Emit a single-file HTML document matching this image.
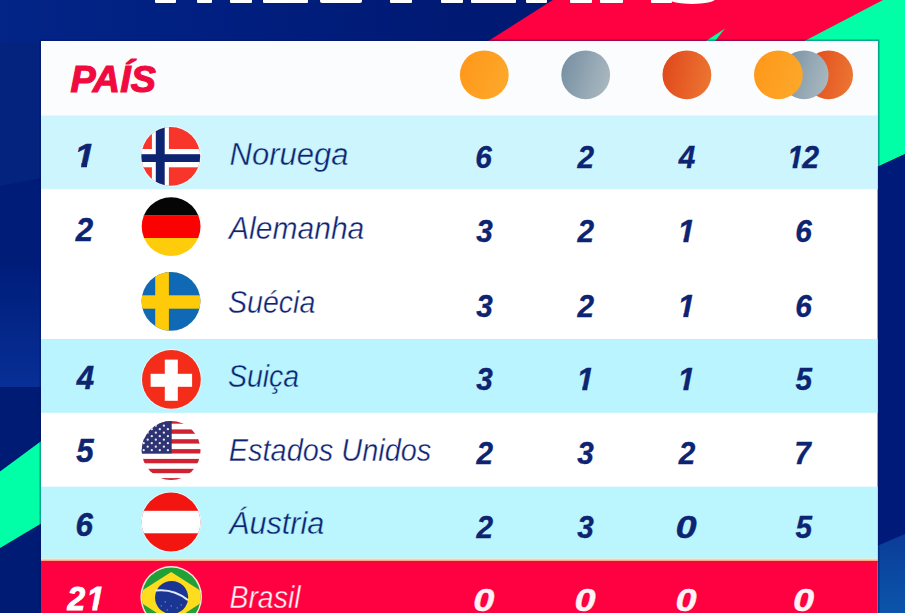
<!DOCTYPE html>
<html lang="pt">
<head>
<meta charset="utf-8">
<title>Quadro de Medalhas</title>
<style>
  html, body { margin: 0; padding: 0; }
  body { width: 905px; height: 613px; overflow: hidden; background: #001f80; position: relative;
         font-family: "Liberation Sans", sans-serif; }
  #bg { position: absolute; left: 0; top: 0; width: 905px; height: 613px; display: block; }
  text { font-family: "Liberation Sans", sans-serif; font-style: italic; fill: #0d2473; }
  .nm { font-weight: normal; }
  .nb { font-weight: bold; stroke: #0d2473; stroke-width: 0.35px; }
  .nb.w { stroke: #fff3f6; }
  .rk { font-weight: bold; stroke: #0d2473; stroke-width: 0.5px; }
  .w { fill: #fff3f6; }
  .w2 { fill: #ffffff; stroke: #ffffff; stroke-width: 0.9px; }
  .pais { font-weight: bold; fill: #f00a3f; stroke: #f00a3f; stroke-width: 1.2px; }
</style>
</head>
<body>
<svg id="bg" width="905" height="613" viewBox="0 0 905 613">
  <defs>
    <linearGradient id="gGold" x1="0" y1="0.3" x2="1" y2="0.7">
      <stop offset="0" stop-color="#ff981a"/><stop offset="1" stop-color="#fca82a"/>
    </linearGradient>
    <linearGradient id="gSilver" x1="0" y1="0.35" x2="1" y2="0.65">
      <stop offset="0" stop-color="#7891a3"/><stop offset="1" stop-color="#a9b8c0"/>
    </linearGradient>
    <linearGradient id="gBronze" x1="0" y1="0.4" x2="1" y2="0.6">
      <stop offset="0" stop-color="#e1491c"/><stop offset="1" stop-color="#ec7532"/>
    </linearGradient>
    <linearGradient id="gLB" x1="0" y1="0" x2="0" y2="1">
      <stop offset="0" stop-color="#0a3c98"/><stop offset="1" stop-color="#0b55aa"/>
    </linearGradient>
    <linearGradient id="gLS" x1="0" y1="0" x2="0" y2="1">
      <stop offset="0" stop-color="#001d7b"/><stop offset="1" stop-color="#072f96"/>
    </linearGradient>
    <linearGradient id="gTop" x1="0" y1="0" x2="1" y2="0">
      <stop offset="0" stop-color="#032587"/><stop offset="0.35" stop-color="#001f80"/><stop offset="0.75" stop-color="#001a74"/><stop offset="1" stop-color="#001a74"/>
    </linearGradient>
    <clipPath id="c0"><rect x="-60" y="-60" width="200" height="55.39"/><polygon points="6.19,-5.01 11.48,-5.01 10.58,1 5.69,1"/><rect x="15.70" y="-5.01" width="18.77" height="12"/></clipPath>
    <clipPath id="c1"><rect x="-60" y="-60" width="200" height="55.39"/><polygon points="6.19,-5.01 11.48,-5.01 10.58,1 5.69,1"/></clipPath>
    <clipPath id="c2"><rect x="-60" y="-60" width="200" height="55.39"/><polygon points="6.19,-5.01 11.48,-5.01 10.58,1 5.69,1"/></clipPath>
    <clipPath id="c3"><rect x="-60" y="-60" width="200" height="55.39"/><polygon points="6.19,-5.01 11.48,-5.01 10.58,1 5.69,1"/></clipPath>
    <clipPath id="c4"><rect x="-60" y="-60" width="200" height="55.39"/><polygon points="6.19,-5.01 11.48,-5.01 10.58,1 5.69,1"/></clipPath>
    <clipPath id="c5"><rect x="-60" y="-60" width="200" height="55.17"/><polygon points="6.61,-5.23 12.17,-5.23 11.22,1 6.06,1"/></clipPath>
    <clipPath id="c6"><rect x="-60" y="-60" width="200" height="55.17"/><rect x="-0.93" y="-5.23" width="19.89" height="12"/><polygon points="26.71,-5.23 32.28,-5.23 31.33,1 26.17,1"/></clipPath>
    <clipPath id="fc"><circle cx="0" cy="0" r="29.4"/></clipPath>
  </defs>

  <!-- background -->
  <rect x="0" y="0" width="905" height="613" fill="#001f80"/>
  <!-- left strip -->
  <rect x="0" y="0" width="42" height="186" fill="#03237f"/>
  <polygon points="0,186 42,178 42,270 0,270" fill="#001c79"/>
  <rect x="0" y="266" width="42" height="121" fill="url(#gLS)"/>
  <rect x="0" y="387" width="42" height="226" fill="#001b74"/>
  <polygon points="0,471.5 42,440.5 42,523 0,548" fill="#00ffa6"/>
  <rect x="0" y="0" width="600" height="42" fill="url(#gTop)"/>
  <!-- top right: red band and green -->
  <polygon points="552.8,0 905,0 905,60 470,60 488.2,41" fill="#ff0040"/>
  <polygon points="883,0 905,0 905,154 877,167 877,41 804.5,41" fill="#00ffa6"/>
  <polygon points="706,41 725,28.5 715,41" fill="#00ffa6"/>
  <!-- right strip lower -->
  <polygon points="877,167 905,154 905,613 877,613" fill="#001a7a"/>
  <polygon points="877,546 905,534 905,613 877,613" fill="url(#gLB)"/>

  <!-- title fragments -->
  <g fill="#ffffff">
    <rect x="155" y="-2" width="21" height="5" rx="1"/>
    <rect x="197" y="-2" width="15" height="5" rx="1"/>
    <rect x="230" y="-2" width="22" height="5" rx="1"/>
    <rect x="263" y="-2" width="45" height="5" rx="1"/>
    <rect x="320" y="-2" width="42" height="5" rx="2"/>
    <rect x="390" y="-2" width="22" height="5" rx="1"/>
    <rect x="441" y="-2" width="22" height="5" rx="1"/>
    <rect x="471" y="-2" width="45" height="5" rx="1"/>
    <rect x="526" y="-2" width="21" height="5" rx="1"/>
    <rect x="570" y="-2" width="22" height="5" rx="1"/>
    <rect x="600" y="-2" width="23" height="5" rx="1"/>
    <rect x="651" y="-2" width="21" height="5" rx="1"/>
    <ellipse cx="692" cy="-1" rx="23" ry="5"/>
  </g>

  <!-- table -->
  <rect x="40.2" y="40.2" width="838.6" height="574" fill="none" stroke="#00125c" stroke-width="1.4" opacity="0.4"/>
  <rect x="41" y="41" width="836.6" height="572" fill="#ffffff"/>
  <rect x="41" y="41" width="836.6" height="74.5" fill="#fbfcfe"/>
  <rect x="41" y="115.5" width="836.6" height="73.7" fill="#ccf5fd"/>
  <rect x="41" y="339" width="836.6" height="73.8" fill="#baf4fe"/>
  <rect x="41" y="486.7" width="836.6" height="72" fill="#bbf5fe"/>
  <rect x="41" y="558.2" width="836.6" height="1.6" fill="#dcefd8"/>
  <rect x="41" y="559.6" width="836.6" height="1.6" fill="#ffa486"/>
  <rect x="41" y="561" width="836.6" height="53" fill="#ff0040"/>
  <rect x="41" y="561" width="836.6" height="1.6" fill="#e61030"/>

  <!-- medals -->
  <circle cx="484.3" cy="74.8" r="24.4" fill="url(#gGold)"/>
  <circle cx="585.7" cy="74.8" r="24.4" fill="url(#gSilver)"/>
  <circle cx="686.9" cy="74.8" r="24.4" fill="url(#gBronze)"/>
  <circle cx="828.6" cy="74.8" r="24.4" fill="url(#gBronze)"/>
  <circle cx="804.2" cy="74.8" r="24.4" fill="url(#gSilver)"/>
  <circle cx="778.4" cy="74.8" r="24.4" fill="url(#gGold)"/>

  <!-- flags -->
  <!-- Norway -->
  <g transform="translate(170.8,156.4)">
    <circle r="30.2" fill="#ffffff" opacity="0.7"/>
    <g clip-path="url(#fc)">
      <rect x="-30" y="-30" width="60" height="60" fill="#f7352b"/>
      <rect x="-18.9" y="-30" width="17" height="60" fill="#ffffff"/>
      <rect x="-30" y="-7.4" width="60" height="18.3" fill="#ffffff"/>
      <rect x="-15" y="-30" width="8.9" height="60" fill="#0d2473"/>
      <rect x="-30" y="-2.2" width="60" height="7.8" fill="#0d2473"/>
    </g>
  </g>
  <!-- Germany -->
  <g transform="translate(171.1,226.6)" clip-path="url(#fc)">
    <rect x="-30" y="-30" width="60" height="19" fill="#050505"/>
    <rect x="-30" y="-11.1" width="60" height="22.5" fill="#fb0202"/>
    <rect x="-30" y="11.4" width="60" height="19" fill="#ffcc0c"/>
  </g>
  <!-- Sweden -->
  <g transform="translate(171,301.3)" clip-path="url(#fc)">
    <rect x="-30" y="-30" width="60" height="60" fill="#0f69b4"/>
    <rect x="-15.8" y="-30" width="13.7" height="60" fill="#ffca08"/>
    <rect x="-30" y="-6" width="60" height="13.4" fill="#ffca08"/>
  </g>
  <!-- Switzerland -->
  <g transform="translate(171.4,379.4)">
    <circle r="30.2" fill="#ffffff" opacity="0.7"/>
    <g clip-path="url(#fc)">
      <rect x="-30" y="-30" width="60" height="60" fill="#f42c1a"/>
      <rect x="-6.6" y="-19.8" width="13" height="41.2" fill="#ffffff"/>
      <rect x="-20.8" y="-5.6" width="41.5" height="13" fill="#ffffff"/>
    </g>
  </g>
  <!-- USA -->
  <g transform="translate(171.1,450.5)">
    <circle r="30" fill="#ffffff"/>
    <g clip-path="url(#fc)">
      <rect x="-30" y="-30" width="60" height="60" fill="#ffffff"/>
      <g fill="#cf2334">
        <rect x="-30" y="-31" width="60" height="4.2"/>
        <rect x="-30" y="-21.1" width="60" height="4.4"/>
        <rect x="-30" y="-11.3" width="60" height="4.4"/>
        <rect x="-30" y="-1.4" width="60" height="4.4"/>
        <rect x="-30" y="8.4" width="60" height="4.4"/>
        <rect x="-30" y="18.3" width="60" height="4.4"/>
        <rect x="-30" y="27.6" width="60" height="4.4"/>
      </g>
      <rect x="-30" y="-30" width="30.6" height="33" fill="#2f3474"/>
      <g fill="#ffffff" opacity="0.9">
        <circle cx="-23.4" cy="-24.8" r="1.15"/><circle cx="-15.3" cy="-24.8" r="1.15"/><circle cx="-7.2" cy="-24.8" r="1.15"/><circle cx="-27.4" cy="-21.3" r="1.15"/><circle cx="-19.3" cy="-21.3" r="1.15"/><circle cx="-11.3" cy="-21.3" r="1.15"/><circle cx="-3.2" cy="-21.3" r="1.15"/><circle cx="-23.4" cy="-17.8" r="1.15"/><circle cx="-15.3" cy="-17.8" r="1.15"/><circle cx="-7.2" cy="-17.8" r="1.15"/><circle cx="-27.4" cy="-14.3" r="1.15"/><circle cx="-19.3" cy="-14.3" r="1.15"/><circle cx="-11.3" cy="-14.3" r="1.15"/><circle cx="-3.2" cy="-14.3" r="1.15"/><circle cx="-23.4" cy="-10.8" r="1.15"/><circle cx="-15.3" cy="-10.8" r="1.15"/><circle cx="-7.2" cy="-10.8" r="1.15"/><circle cx="-27.4" cy="-7.3" r="1.15"/><circle cx="-19.3" cy="-7.3" r="1.15"/><circle cx="-11.3" cy="-7.3" r="1.15"/><circle cx="-3.2" cy="-7.3" r="1.15"/><circle cx="-23.4" cy="-3.8" r="1.15"/><circle cx="-15.3" cy="-3.8" r="1.15"/><circle cx="-7.2" cy="-3.8" r="1.15"/><circle cx="-27.4" cy="-0.3" r="1.15"/><circle cx="-19.3" cy="-0.3" r="1.15"/><circle cx="-11.3" cy="-0.3" r="1.15"/><circle cx="-3.2" cy="-0.3" r="1.15"/>
      </g>
    </g>
  </g>
  <!-- Austria -->
  <g transform="translate(171,522)">
    <circle r="30.2" fill="#ffffff" opacity="0.7"/>
    <g clip-path="url(#fc)">
      <rect x="-30" y="-30" width="60" height="60" fill="#f21510"/>
      <rect x="-30" y="-11.2" width="60" height="22.5" fill="#ffffff"/>
    </g>
  </g>
  <!-- Brazil -->
  <g transform="translate(171.2,596.9)">
    <circle cx="0" cy="0" r="30.8" fill="#ffe9d8"/>
    <g clip-path="url(#fc)">
      <rect x="-30" y="-30" width="60" height="60" fill="#22a038"/>
      <polygon points="-39.2,0.2 0,-24.8 39.2,0.2 0,25.2" fill="#ffdc1e"/>
      <circle cx="0.4" cy="0.6" r="16.6" fill="#1a3592"/>
      <path d="M -15.8 -6.3 Q 2 -8.6 16.8 3.2" fill="none" stroke="#dfe9ff" stroke-width="2"/>
      <g fill="#8fa6e0"><circle cx="-6" cy="5" r="0.7"/><circle cx="-10" cy="9" r="0.6"/><circle cx="0" cy="9" r="0.7"/><circle cx="6" cy="11" r="0.6"/><circle cx="-4" cy="13" r="0.6"/><circle cx="10" cy="8" r="0.6"/></g>
    </g>
  </g>

  <!-- header label -->
  <text class="pais" x="70.4" y="92.4" font-size="37.7" letter-spacing="0.1">PAÍS</text>

  <text class="nm" transform="translate(229.50 165.30)" font-size="31" text-anchor="start" style="stroke:#ccf5fd;stroke-width:0.4px">Noruega</text>
  <text class="nm" transform="translate(229.00 239.20) scale(0.970 1)" font-size="31" text-anchor="start" style="stroke:#ffffff;stroke-width:0.4px">Alemanha</text>
  <text class="nm" transform="translate(227.90 313.30) scale(0.923 1)" font-size="31" text-anchor="start" style="stroke:#ffffff;stroke-width:0.4px">Suécia</text>
  <text class="nm" transform="translate(227.90 387.10) scale(0.920 1)" font-size="31" text-anchor="start" style="stroke:#baf4fe;stroke-width:0.4px">Suiça</text>
  <text class="nm" transform="translate(228.80 460.70) scale(0.933 1)" font-size="31" text-anchor="start" style="stroke:#ffffff;stroke-width:0.4px">Estados Unidos</text>
  <text class="nm" transform="translate(229.00 534.20) scale(0.989 1)" font-size="31" text-anchor="start" style="stroke:#bbf5fe;stroke-width:0.4px">Áustria</text>
  <text class="nm w" transform="translate(229.40 607.60) scale(0.918 1)" font-size="31" text-anchor="start" style="stroke:#ff0040;stroke-width:0.4px">Brasil</text>
  <text class="nb" transform="translate(475.35 168.40) scale(0.930 1)" font-size="32" text-anchor="start">6</text>
  <text class="nb" transform="translate(577.61 168.40) scale(0.930 1)" font-size="32" text-anchor="start">2</text>
  <text class="nb" transform="translate(678.83 168.40) scale(0.930 1)" font-size="32" text-anchor="start">4</text>
  <text class="nb" transform="translate(787.16 168.40) scale(0.930 1)" font-size="32" text-anchor="start" letter-spacing="-1.2" clip-path="url(#c0)">12</text>
  <text class="nb" transform="translate(476.18 242.30) scale(0.930 1)" font-size="32" text-anchor="start">3</text>
  <text class="nb" transform="translate(577.61 242.30) scale(0.930 1)" font-size="32" text-anchor="start">2</text>
  <text class="nb" transform="translate(677.55 242.30)" font-size="32" text-anchor="start" clip-path="url(#c1)">1</text>
  <text class="nb" transform="translate(795.15 242.30) scale(0.930 1)" font-size="32" text-anchor="start">6</text>
  <text class="nb" transform="translate(476.18 316.80) scale(0.930 1)" font-size="32" text-anchor="start">3</text>
  <text class="nb" transform="translate(577.61 316.80) scale(0.930 1)" font-size="32" text-anchor="start">2</text>
  <text class="nb" transform="translate(677.55 316.80)" font-size="32" text-anchor="start" clip-path="url(#c2)">1</text>
  <text class="nb" transform="translate(795.15 316.80) scale(0.930 1)" font-size="32" text-anchor="start">6</text>
  <text class="nb" transform="translate(476.18 390.20) scale(0.930 1)" font-size="32" text-anchor="start">3</text>
  <text class="nb" transform="translate(576.45 390.20)" font-size="32" text-anchor="start" clip-path="url(#c3)">1</text>
  <text class="nb" transform="translate(677.55 390.20)" font-size="32" text-anchor="start" clip-path="url(#c4)">1</text>
  <text class="nb" transform="translate(795.60 390.20) scale(0.930 1)" font-size="32" text-anchor="start">5</text>
  <text class="nb" transform="translate(476.51 464.20) scale(0.930 1)" font-size="32" text-anchor="start">2</text>
  <text class="nb" transform="translate(577.28 464.20) scale(0.930 1)" font-size="32" text-anchor="start">3</text>
  <text class="nb" transform="translate(678.71 464.20) scale(0.930 1)" font-size="32" text-anchor="start">2</text>
  <text class="nb" transform="translate(794.30 464.20) scale(0.930 1)" font-size="32" text-anchor="start">7</text>
  <text class="nb" transform="translate(476.51 537.60) scale(0.930 1)" font-size="32" text-anchor="start">2</text>
  <text class="nb" transform="translate(577.28 537.60) scale(0.930 1)" font-size="32" text-anchor="start">3</text>
  <text class="nb" transform="translate(675.51 537.60) scale(1.190 1)" font-size="32" text-anchor="start">0</text>
  <text class="nb" transform="translate(795.60 537.60) scale(0.930 1)" font-size="32" text-anchor="start">5</text>
  <text class="nb w" transform="translate(473.31 611.20) scale(1.190 1)" font-size="32" text-anchor="start">0</text>
  <text class="nb w" transform="translate(574.41 611.20) scale(1.190 1)" font-size="32" text-anchor="start">0</text>
  <text class="nb w" transform="translate(675.51 611.20) scale(1.190 1)" font-size="32" text-anchor="start">0</text>
  <text class="nb w" transform="translate(793.11 611.20) scale(1.190 1)" font-size="32" text-anchor="start">0</text>
  <text class="rk" transform="translate(74.32 167.10) scale(1.100 1)" font-size="34" text-anchor="start" clip-path="url(#c5)">1</text>
  <text class="rk" transform="translate(75.81 241.30) scale(0.920 1)" font-size="34" text-anchor="start">2</text>
  <text class="rk" transform="translate(76.63 389.00) scale(0.920 1)" font-size="34" text-anchor="start">4</text>
  <text class="rk" transform="translate(76.17 462.00) scale(0.920 1)" font-size="34" text-anchor="start">5</text>
  <text class="rk" transform="translate(75.49 536.00) scale(0.920 1)" font-size="34" text-anchor="start">6</text>
  <text class="rk w2" transform="translate(67.30 609.90) scale(0.950 1)" font-size="34" text-anchor="start" letter-spacing="1.2" clip-path="url(#c6)">21</text>
</svg>
</body>
</html>
